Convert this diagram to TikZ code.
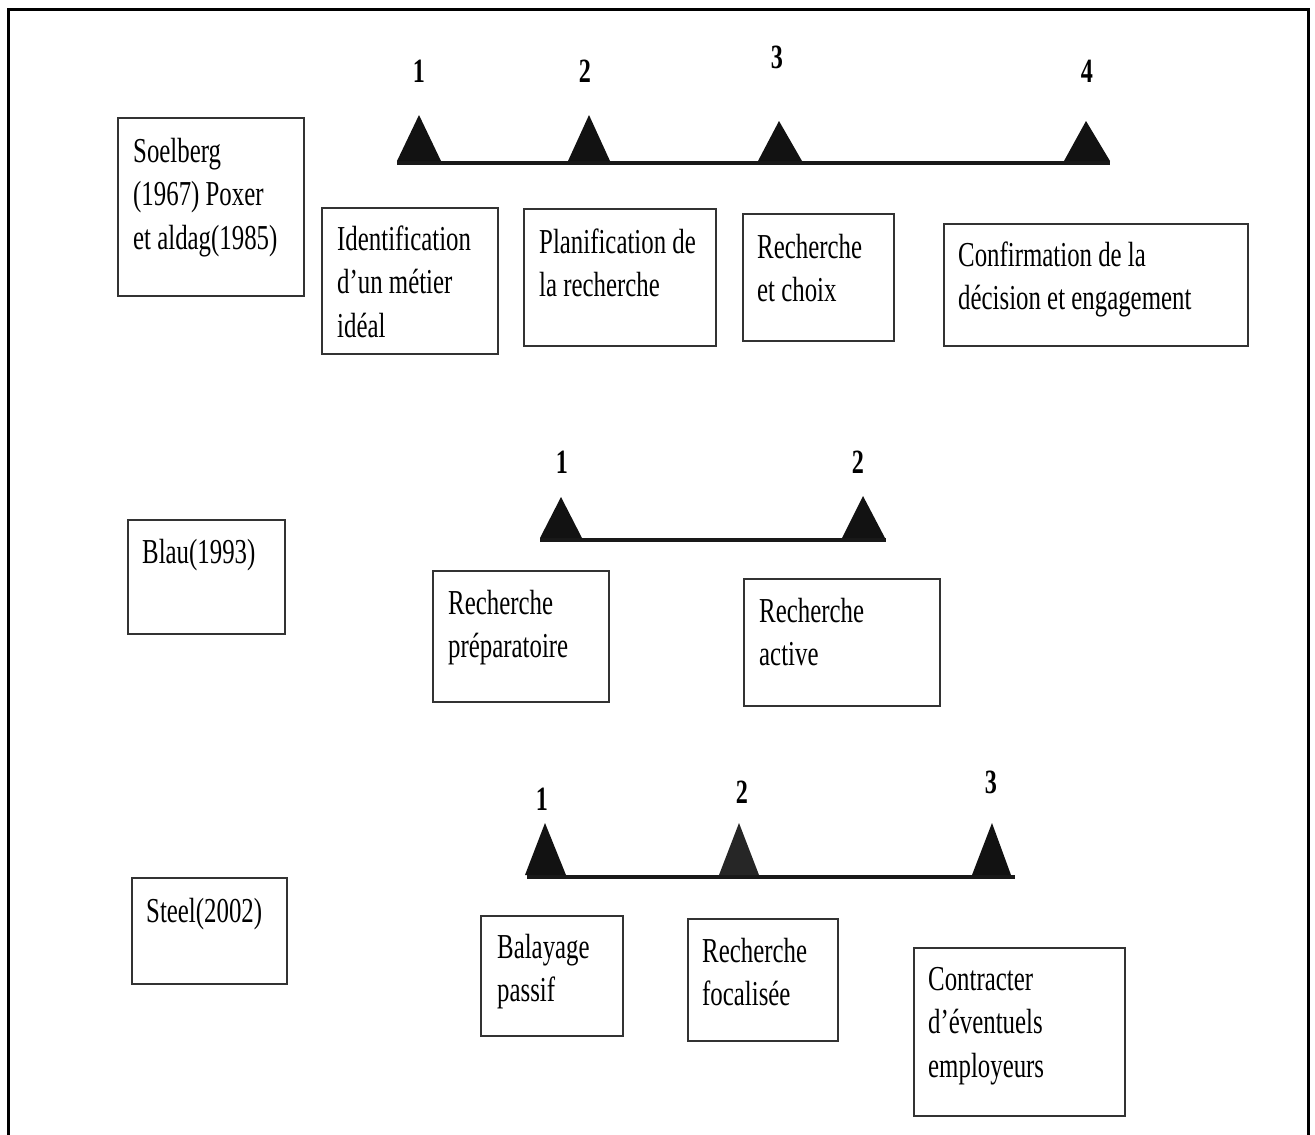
\documentclass[tikz,border=0pt]{standalone}
\usepackage{fontspec}
\setmainfont{Liberation Serif}[FakeStretch=0.71]
\newcommand\stacktxt[1]{\begin{tabular}[t]{@{}l@{}}#1\end{tabular}}
\begin{document}
\begin{tikzpicture}[x=1pt,y=-1pt,
  frame/.style={line width=3pt,black},
  box/.style={draw=black!80,line width=2pt,anchor=north west,inner sep=0pt},
  txt/.style={anchor=base west,inner sep=0pt,font=\fontsize{35}{43.5}\selectfont},
  num/.style={anchor=base,inner sep=0pt,font=\fontsize{34}{40}\selectfont\bfseries},
  tl/.style={line width=3.5pt,black!90},
  tri/.style={fill=black!93}]
\useasboundingbox (0,0) rectangle (1315,1135);
% page frame (open at the bottom)
\draw[frame] (8,1140) -- (8,9.5) -- (1308,9.5) -- (1308,1140);

% ---------- Soelberg / Poxer et Aldag ----------
\node[box,minimum width=186pt,minimum height=178pt] (a0) at (117,117) {};
\node[txt] (a0t) at (133,162) {\stacktxt{Soelberg\\(1967) Poxer\\et aldag(1985)}};

\coordinate (a-start) at (397,163);
\coordinate (a-end) at (1110,163);
\draw[tl] (a-start) -- (a-end);
\fill[tri] (397,161) -- (419,115) -- (441,161) -- cycle;
\fill[tri] (568,161) -- (589,115) -- (610,161) -- cycle;
\fill[tri] (758,161) -- (779,121) -- (802,161) -- cycle;
\fill[tri] (1064,161) -- (1086,121) -- (1110,161) -- cycle;
\node[num] (a1n) at (419,82) {1};
\node[num] (a2n) at (585,82) {2};
\node[num] (a3n) at (777,68) {3};
\node[num] (a4n) at (1087,82) {4};

\node[box,minimum width=176pt,minimum height=146pt] (a1) at (321,207) {};
\node[txt] (a1t) at (337,250) {\stacktxt{Identification\\d’un métier\\idéal}};
\node[box,minimum width=192pt,minimum height=137pt] (a2) at (523,208) {};
\node[txt] (a2t) at (539,253) {\stacktxt{Planification de\\la recherche}};
\node[box,minimum width=151pt,minimum height=127pt] (a3) at (742,213) {};
\node[txt] (a3t) at (757,258) {\stacktxt{Recherche\\et choix}};
\node[box,minimum width=304pt,minimum height=122pt] (a4) at (943,223) {};
\node[txt] (a4t) at (958,266) {\stacktxt{Confirmation de la\\décision et engagement}};

% ---------- Blau ----------
\node[box,minimum width=157pt,minimum height=114pt] (b0) at (127,519) {};
\node[txt] (b0t) at (142,563) {Blau(1993)};

\coordinate (b-start) at (540,540);
\coordinate (b-end) at (886,540);
\draw[tl] (b-start) -- (b-end);
\fill[tri] (540,538) -- (561,497) -- (582,538) -- cycle;
\fill[tri] (842,538) -- (863,496) -- (885,538) -- cycle;
\node[num] (b1n) at (562,473) {1};
\node[num] (b2n) at (858,473) {2};

\node[box,minimum width=176pt,minimum height=131pt] (b1) at (432,570) {};
\node[txt] (b1t) at (448,614) {\stacktxt{Recherche\\préparatoire}};
\node[box,minimum width=196pt,minimum height=127pt] (b2) at (743,578) {};
\node[txt] (b2t) at (759,622) {\stacktxt{Recherche\\active}};

% ---------- Steel ----------
\node[box,minimum width=155pt,minimum height=106pt] (c0) at (131,877) {};
\node[txt] (c0t) at (146,922) {Steel(2002)};

\coordinate (c-start) at (527,877);
\coordinate (c-end) at (1015,877);
\draw[tl] (c-start) -- (c-end);
\fill[tri] (525,875) -- (545,823) -- (566,875) -- cycle;
\fill[tri,fill=black!85] (719,875) -- (739,823) -- (759,875) -- cycle;
\fill[tri] (972,875) -- (992,823) -- (1011,875) -- cycle;
\node[num] (c1n) at (542,810) {1};
\node[num] (c2n) at (742,803) {2};
\node[num] (c3n) at (991,793) {3};

\node[box,minimum width=142pt,minimum height=120pt] (c1) at (480,915) {};
\node[txt] (c1t) at (497,958) {\stacktxt{Balayage\\passif}};
\node[box,minimum width=150pt,minimum height=122pt] (c2) at (687,918) {};
\node[txt] (c2t) at (702,962) {\stacktxt{Recherche\\focalisée}};
\node[box,minimum width=211pt,minimum height=168pt] (c3) at (913,947) {};
\node[txt] (c3t) at (928,990) {\stacktxt{Contracter\\d’éventuels\\employeurs}};
\end{tikzpicture}
\end{document}
